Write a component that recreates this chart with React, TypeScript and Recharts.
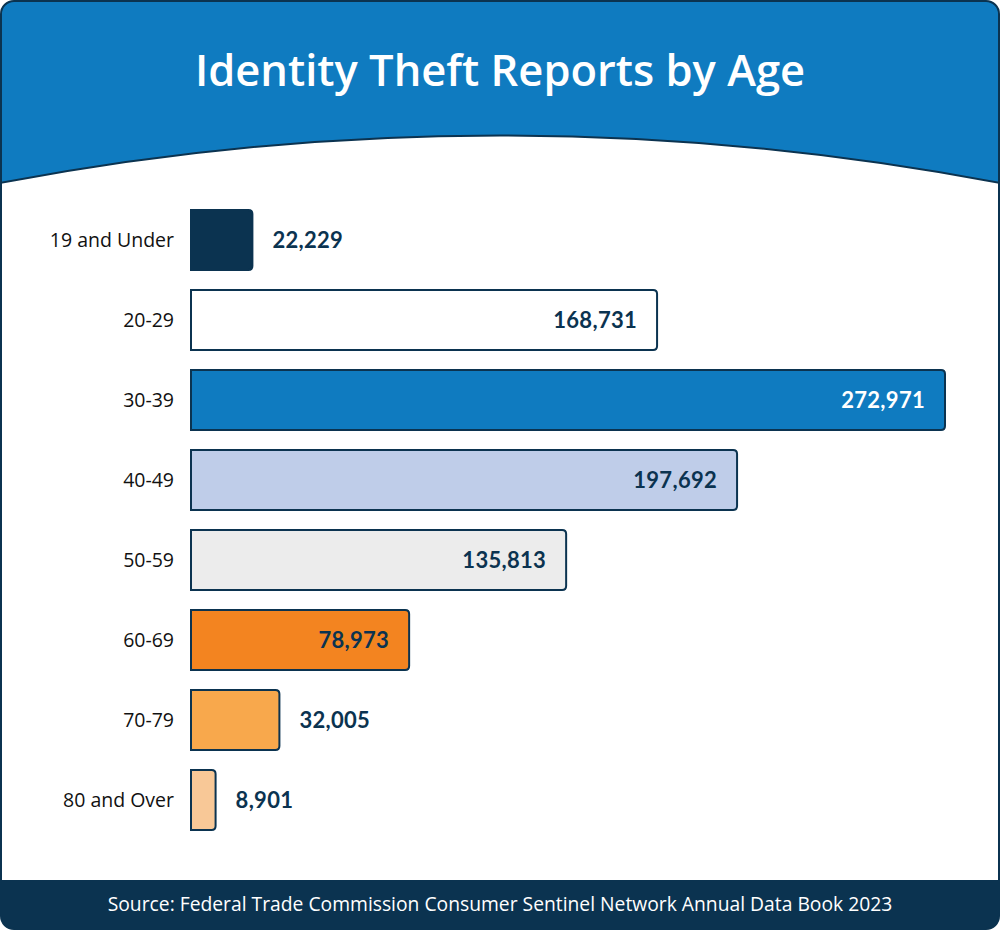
import { BarChart, Bar, XAxis, YAxis, LabelList } from 'recharts'

const ageGroups = ['19 and Under', '20-29', '30-39', '40-49', '50-59', '60-69', '70-79', '80 and Over']
const reports = [22229, 168731, 272971, 197692, 135813, 78973, 32005, 8901]

const barColors = ['#0b3350', '#ffffff', '#0f7bc0', '#bfcde9', '#ececec', '#f38420', '#f8a84c', '#f8c897']
const navy = '#0b3350'
const blue = '#0f7bc0'
const font = 'Lato, "Open Sans", sans-serif'
const wideFont = '"Open Sans", Lato, sans-serif'

const data = ageGroups.map((age, i) => ({ age, reports: reports[i], color: barColors[i] }))

// bar with rounded right corners; also draws the left axis piece down to the next bar
function RoundBar(props: any) {
  const { x, y, width, height, index, background, payload } = props
  const r = 4
  const w = Math.max(width, r)
  const path = `M${x},${y} H${x + w - r} Q${x + w},${y} ${x + w},${y + r} V${y + height - r} Q${x + w},${y + height} ${x + w - r},${y + height} H${x} Z`
  const gap = background ? background.height - height : 20
  const last = index === ageGroups.length - 1
  return (
    <g>
      <path d={path} fill={payload.color} stroke={navy} strokeWidth={2} />
      <line x1={x} x2={x} y1={y - 1} y2={last ? y + height + 1 : y + height + gap} stroke={navy} strokeWidth={2} />
    </g>
  )
}

function ValueLabel(props: any) {
  const { x, y, width, height, value, index } = props
  const text = Number(value).toLocaleString('en-US')
  const outside = value < 50000
  const cy = y + height / 2
  return (
    <text
      x={outside ? x + width + 20 : x + width - 20}
      y={cy}
      dy={8}
      textAnchor={outside ? 'start' : 'end'}
      fill={index === 2 ? '#ffffff' : navy}
      fontFamily={font}
      fontWeight={700}
      fontSize={22}
      letterSpacing={0.3}
    >
      {text}
    </text>
  )
}

export default function App() {
  return (
    <div style={{ position: 'absolute', left: 0, top: 0, width: 1000, height: 930, background: '#fff' }}>
      {/* card frame, header arc, footer */}
      <svg width={1000} height={930} style={{ position: 'absolute', left: 0, top: 0 }}>
        <defs>
          <clipPath id="card">
            <rect x={1} y={1} width={998} height={928} rx={13} />
          </clipPath>
        </defs>
        <g clipPath="url(#card)">
          <rect x={0} y={0} width={1000} height={930} fill="#fff" />
          <path d="M0,0 H1000 V183 Q500,88 0,183 Z" fill={blue} />
          <path d="M0,183 Q500,88 1000,183" fill="none" stroke={navy} strokeWidth={2} />
          <rect x={0} y={880} width={1000} height={50} fill={navy} />
        </g>
        <rect x={1} y={1} width={998} height={928} rx={13} fill="none" stroke={navy} strokeWidth={2} />
      </svg>

      <div
        style={{
          position: 'absolute', left: 0, top: 42, width: 1000, textAlign: 'center',
          color: '#fff', fontFamily: wideFont, fontWeight: 600, fontSize: 43.5, lineHeight: '56px',
        }}
      >
        Identity Theft Reports by Age
      </div>

      <div style={{ position: 'absolute', left: 0, top: 0 }}>
        <BarChart
          layout="vertical"
          width={1000}
          height={930}
          data={data}
          margin={{ top: 200, right: 55, bottom: 90, left: 0 }}
        >
          <XAxis type="number" hide domain={[0, 'dataMax']} />
          <YAxis
            type="category"
            dataKey="age"
            width={191}
            axisLine={false}
            tickLine={false}
            tickSize={0}
            tickMargin={17}
            tick={{ fill: '#111', fontFamily: wideFont, fontSize: 19.5 }}
          />
          <Bar dataKey="reports" barSize={60} isAnimationActive={false} shape={<RoundBar />}>
            <LabelList dataKey="reports" content={<ValueLabel />} />
          </Bar>
        </BarChart>
      </div>

      <div
        style={{
          position: 'absolute', left: 0, top: 891, width: 1000, textAlign: 'center',
          color: '#fff', fontFamily: wideFont, fontSize: 19.3, lineHeight: '26px',
        }}
      >
        Source: Federal Trade Commission Consumer Sentinel Network Annual Data Book 2023
      </div>
    </div>
  )
}
